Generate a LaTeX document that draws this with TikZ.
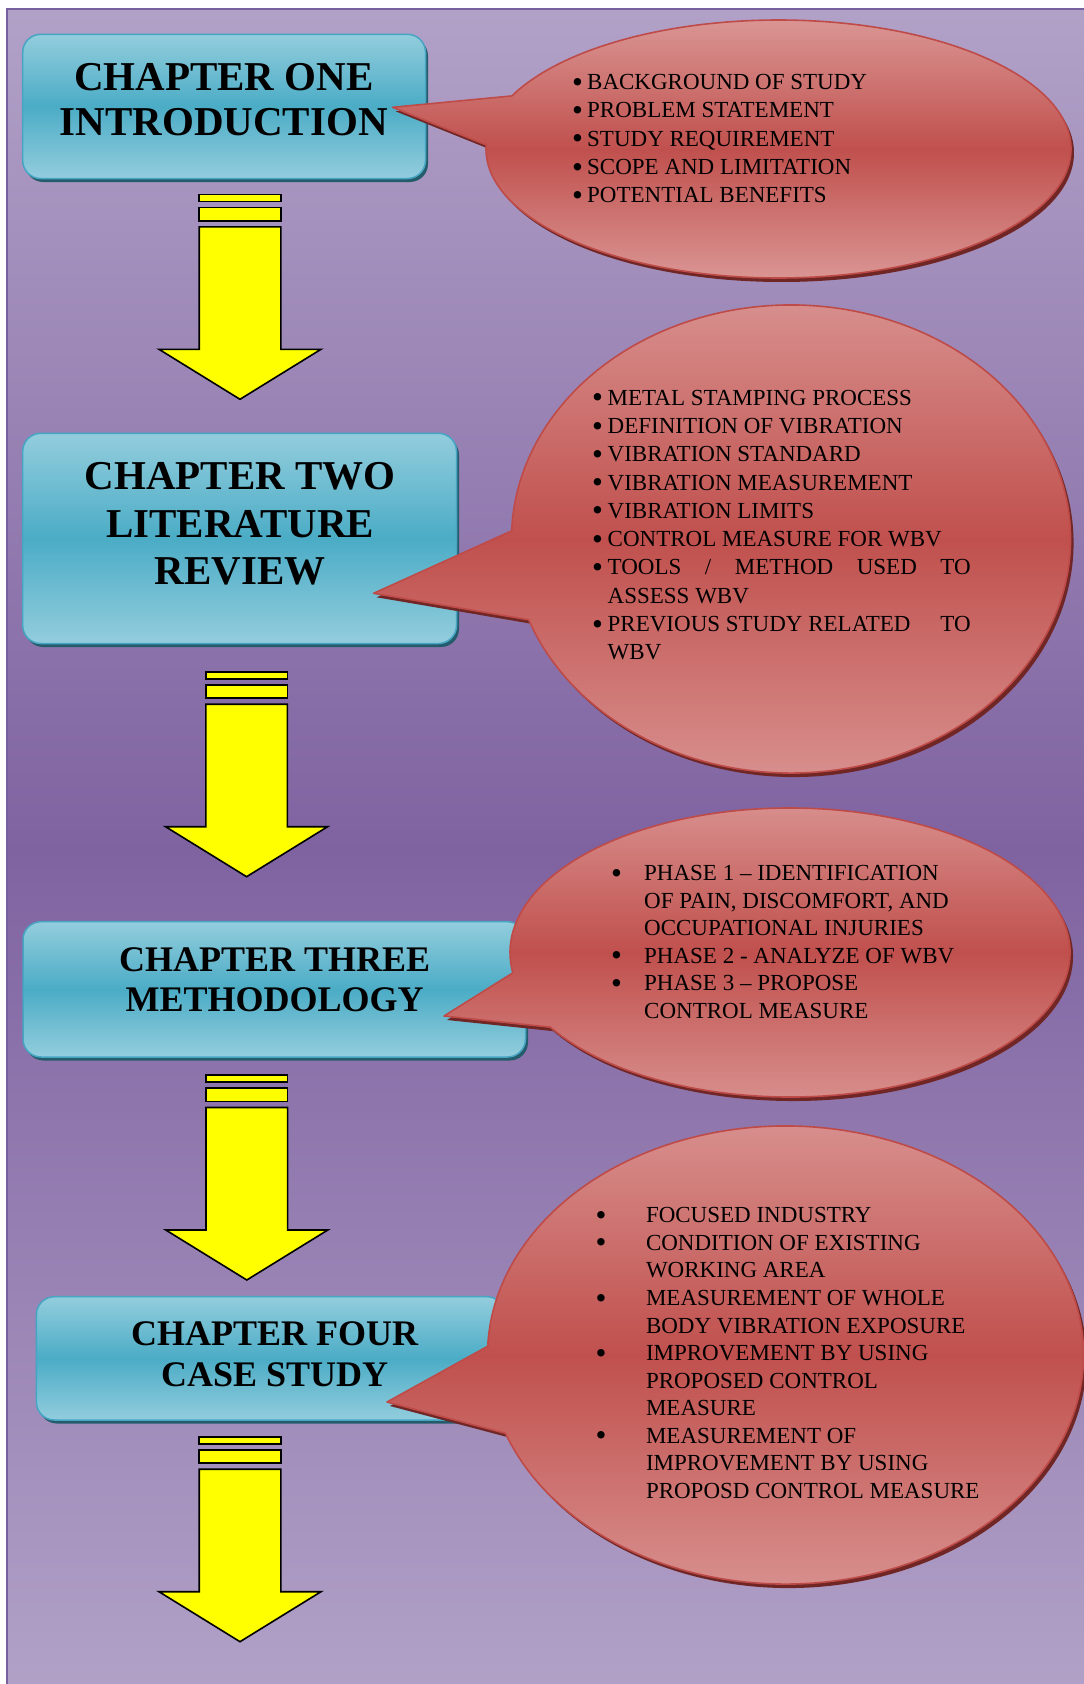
\documentclass[tikz,border=0pt]{standalone}
\usepackage{fontspec}
\setmainfont{Liberation Serif}
\definecolor{bgl}{RGB}{177,161,199}
\definecolor{bgd}{RGB}{127,99,161}
\definecolor{bgline}{RGB}{120,95,160}
\definecolor{bll}{RGB}{147,205,221}
\definecolor{blm}{RGB}{75,172,198}
\definecolor{blb}{RGB}{70,165,195}
\definecolor{bls}{RGB}{37,92,108}
\definecolor{rdl}{RGB}{218,150,148}
\definecolor{rdm}{RGB}{192,80,77}
\definecolor{rdb}{RGB}{190,75,72}
\definecolor{rds}{RGB}{112,38,36}
\definecolor{ayellow}{RGB}{255,255,0}
\tikzset{
  chbox/.style={top color=bll, bottom color=bll, middle color=blm, draw=blb, line width=1.5pt, rounded corners=18pt},
  chshadow/.style={fill=bls, rounded corners=18pt},
  chtext/.style={align=center, inner sep=0pt},
  calloutshape/.style={top color=rdl, bottom color=rdl, middle color=rdm, draw=rdb, line width=1.6pt, line join=round},
  calshadow/.style={fill=rds},
  listtext/.style={anchor=north west, inner sep=0pt, align=left},
  yarrow/.style={fill=ayellow, draw=black, line width=1.6pt, line join=miter},
  stripedarrow/.pic={
    \path[yarrow] (-40.8,0) rectangle (40.8,-7);
    \path[yarrow] (-40.8,-13) rectangle (40.8,-26.5);
    \path[yarrow] (-40.8,-32.5) -- (40.8,-32.5) -- (40.8,-155) -- (81,-155) -- (0,-205) -- (-81,-155) -- (-40.8,-155) -- cycle;
  }
}
\newcommand\chapterbox[4]{%
  \fill[chshadow] (#1+2.5,-#2-3.5) rectangle (#3+2.5,-#4-3.5);
  \path[chbox] (#1,-#2) rectangle (#3,-#4);}
% cx cy a b startangle endangle tipx tipy
\newcommand\bubble[8]{%
  \fill[calshadow] (#1+3,-#2-4) ++(#5:#3pt and #4pt) arc[start angle=#5, end angle=#6, x radius=#3pt, y radius=#4pt] -- (#7+3,-#8-4) -- cycle;
  \path[calloutshape] (#1,-#2) ++(#5:#3pt and #4pt) arc[start angle=#5, end angle=#6, x radius=#3pt, y radius=#4pt] -- (#7,-#8) -- cycle;}
\newcommand\bul[1]{\makebox[#1][l]{\smash{\raisebox{-2.6pt}{\scalebox{1.35}{\textbullet}}}}}
\begin{document}
\begin{tikzpicture}[x=1pt,y=1pt]
\useasboundingbox (0,0) rectangle (1084,-1684);
% background
\shade[top color=bgl, bottom color=bgl, middle color=bgd] (7.2,-9) rectangle (1090,-1690);
\draw[bgline, line width=1.5pt] (7.2,-1690) -- (7.2,-9) -- (1090,-9);
% chapter boxes
\chapterbox{22.7}{34.3}{425.5}{178.5}
\chapterbox{22.7}{433.3}{456.5}{643.5}
\chapterbox{23}{921.7}{525.5}{1057}
\chapterbox{36.4}{1296.7}{505}{1420}
% striped arrows
\pic (a1) at (240,-194.3) {stripedarrow};
\pic (a2) at (246.6,-671.7) {stripedarrow};
\pic (a3) at (246.8,-1075) {stripedarrow};
\pic (a4) at (240,-1436.7) {stripedarrow};
% callouts
\bubble{778.5}{149}{292.5}{129}{178.2}{515.7}{392.6}{107.3}
\bubble{791}{539}{279.5}{234}{200.2}{538}{373.6}{593.3}
\bubble{790}{952.5}{280}{144.5}{211.1}{548.1}{444}{1016}
\bubble{785.5}{1355}{298}{229}{200}{537.8}{387}{1402}
% chapter titles
\node[chtext, font=\bfseries\fontsize{41}{45}\selectfont] (t1) at (223.8,-99.2) {CHAPTER ONE\\INTRODUCTION};
\node[chtext, font=\bfseries\fontsize{41}{47.5}\selectfont] (t2) at (240.2,-524.2) {CHAPTER TWO\\LITERATURE\\REVIEW};
\node[chtext, font=\bfseries\fontsize{36}{40}\selectfont] (t3) at (274.6,-980) {CHAPTER THREE\\METHODOLOGY};
\node[chtext, font=\bfseries\fontsize{36}{41.7}\selectfont] (t4) at (274.6,-1354.2) {CHAPTER FOUR\\CASE STUDY};
% lists
\node[listtext, font=\fontsize{23}{28.3}\selectfont] (l1) at (572,-69.5) {%
\begin{tabular}{@{}l@{}l@{}}
\bul{15pt} & BACKGROUND OF STUDY\\
\bul{15pt} & PROBLEM STATEMENT\\
\bul{15pt} & STUDY REQUIREMENT\\
\bul{15pt} & SCOPE AND LIMITATION\\
\bul{15pt} & POTENTIAL BENEFITS
\end{tabular}};
\node[listtext, font=\fontsize{23}{28.3}\selectfont] (l2) at (592,-385.1) {%
\begin{tabular}{@{}l@{}l@{}}
\bul{15.5pt} & METAL STAMPING PROCESS\\
\bul{15.5pt} & DEFINITION OF VIBRATION\\
\bul{15.5pt} & VIBRATION STANDARD\\
\bul{15.5pt} & VIBRATION MEASUREMENT\\
\bul{15.5pt} & VIBRATION LIMITS\\
\bul{15.5pt} & CONTROL MEASURE FOR WBV\\
\bul{15.5pt} & \makebox[363pt][s]{TOOLS / METHOD USED TO}\\
 & ASSESS WBV\\
\bul{15.5pt} & \makebox[363pt][l]{PREVIOUS STUDY RELATED\hfill TO}\\
 & WBV
\end{tabular}};
\node[listtext, font=\fontsize{23}{27.6}\selectfont] (l3) at (611,-861) {%
\begin{tabular}{@{}l@{}l@{}}
\bul{33pt} & PHASE 1 – IDENTIFICATION\\
 & OF PAIN, DISCOMFORT, AND\\
 & OCCUPATIONAL INJURIES\\
\bul{33pt} & PHASE 2 - ANALYZE OF WBV\\
\bul{33pt} & PHASE 3 – PROPOSE\\
 & CONTROL MEASURE
\end{tabular}};
\node[listtext, font=\fontsize{23}{27.57}\selectfont] (l4) at (595.3,-1203.3) {%
\begin{tabular}{@{}l@{}l@{}}
\bul{50.5pt} & FOCUSED INDUSTRY\\
\bul{50.5pt} & CONDITION OF EXISTING\\
 & WORKING AREA\\
\bul{50.5pt} & MEASUREMENT OF WHOLE\\
 & BODY VIBRATION EXPOSURE\\
\bul{50.5pt} & IMPROVEMENT BY USING\\
 & PROPOSED CONTROL\\
 & MEASURE\\
\bul{50.5pt} & MEASUREMENT OF\\
 & IMPROVEMENT BY USING\\
 & PROPOSD CONTROL MEASURE
\end{tabular}};
\end{tikzpicture}
\end{document}
